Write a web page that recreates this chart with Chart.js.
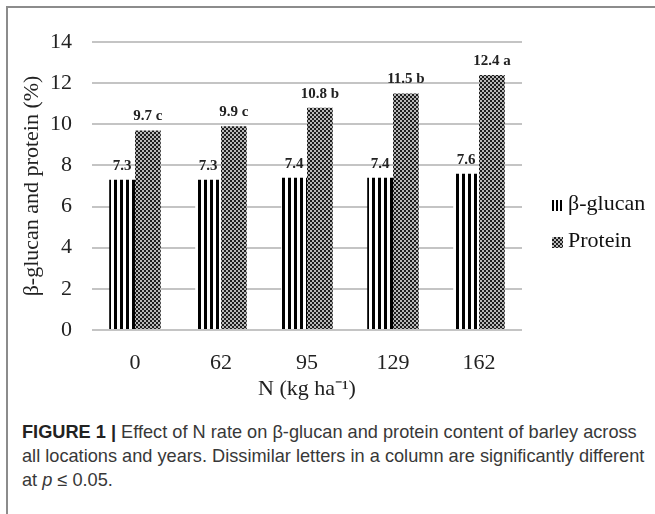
<!DOCTYPE html>
<html>
<head>
<meta charset="utf-8">
<script src="https://cdn.jsdelivr.net/npm/chart.js@4.4.1/dist/chart.umd.min.js"></script>
<style>
    body { margin: 0; background: #fff; width: 655px; height: 514px; overflow: hidden; position: relative; }
    #frame { position: absolute; left: 6px; top: 6px; width: 660px; height: 520px; border-left: 2px solid #8c8c8c; border-top: 2px solid #8c8c8c; }
    #wrap { position: absolute; left: 0; top: 0; width: 655px; height: 406px; }
    #legend { position: absolute; left: 552px; top: 189px; font-family: "Liberation Serif", "Times New Roman", serif; font-size: 22px; color: #111; }
    #legend div { height: 37px; line-height: 28px; white-space: nowrap; }
    #legend canvas { vertical-align: -1px; margin-right: 5px; }
    #caption { position: absolute; left: 22px; top: 420px; font-family: "Liberation Sans", Arial, sans-serif; font-size: 18.2px; line-height: 24px; color: #383838; white-space: nowrap; }
    #caption b { color: #222; }
</style>
</head>
<body>
<div id="frame"></div>
<div id="wrap"><canvas id="barChart"></canvas></div>
<div id="legend"></div>
<div id="caption"><b>FIGURE 1 |</b> Effect of N rate on β-glucan and protein content of barley across<br>all locations and years. Dissimilar letters in a column are significantly different<br>at <i>p</i> ≤ 0.05.</div>

<script>
const nRates = ['0', '62', '95', '129', '162'];
const seriesNames = ['β-glucan', 'Protein'];
const glucanValues = [7.3, 7.3, 7.4, 7.4, 7.6];
const proteinValues = [9.7, 9.9, 10.8, 11.5, 12.4];
const proteinLetters = ['c', 'c', 'b', 'b', 'a'];
const yTicks = [0, 2, 4, 6, 8, 10, 12, 14];

const serif = '"Liberation Serif", "Times New Roman", serif';

function stripePattern(ctx, period) {
    const c = document.createElement('canvas');
    c.width = period; c.height = period;
    const g = c.getContext('2d');
    g.fillStyle = '#fff';
    g.fillRect(0, 0, period, period);
    g.fillStyle = '#000';
    g.fillRect(0, 0, period / 2, period);
    return ctx.createPattern(c, 'repeat');
}

function checkPattern(ctx) {
    const c = document.createElement('canvas');
    c.width = 4; c.height = 4;
    const g = c.getContext('2d');
    g.fillStyle = '#1e1e1e';
    g.fillRect(0, 0, 4, 4);
    g.fillStyle = '#b8b8b8';
    g.fillRect(0, 0, 2, 2);
    g.fillRect(2, 2, 2, 2);
    return ctx.createPattern(c, 'repeat');
}

// value labels above each bar, letters only on protein
const barLabels = {
    id: 'barLabels',
    afterDatasetsDraw(chart) {
        const ctx = chart.ctx;
        ctx.save();
        ctx.font = 'bold 15px ' + serif;
        ctx.fillStyle = '#222';
        ctx.textAlign = 'center';
        ctx.textBaseline = 'alphabetic';
        chart.data.datasets.forEach((ds, di) => {
            chart.getDatasetMeta(di).data.forEach((bar, i) => {
                let txt = ds.data[i].toFixed(1);
                if (di === 1) txt += ' ' + proteinLetters[i];
                ctx.fillText(txt, bar.x, bar.y - 10);
            });
        });
        ctx.restore();
    }
};

function buildLegend() {
    const box = document.getElementById('legend');
    seriesNames.forEach((name, i) => {
        const row = document.createElement('div');
        const sw = document.createElement('canvas');
        sw.width = 11; sw.height = 11;
        const g = sw.getContext('2d');
        g.fillStyle = i === 0 ? stripePattern(g, 4) : checkPattern(g);
        g.fillRect(0, 0, 11, 11);
        row.appendChild(sw);
        row.appendChild(document.createTextNode(name));
        box.appendChild(row);
    });
}

function initChart() {
    const ctx = document.getElementById('barChart').getContext('2d');
    new Chart(ctx, {
        type: 'bar',
        data: {
            labels: nRates,
            datasets: [{
                label: seriesNames[0],
                data: glucanValues,
                backgroundColor: stripePattern(ctx, 6),
                borderWidth: 0,
                barPercentage: 1,
                categoryPercentage: 0.6
            }, {
                label: seriesNames[1],
                data: proteinValues,
                backgroundColor: checkPattern(ctx),
                borderWidth: 0,
                barPercentage: 1,
                categoryPercentage: 0.6
            }]
        },
        options: {
            responsive: true,
            maintainAspectRatio: false,
            animation: false,
            layout: { padding: { top: 42, left: 15, right: 133, bottom: 0 } },
            plugins: {
                tooltip: { enabled: false },
                legend: { display: false }
            },
            scales: {
                x: {
                    afterFit(scale) { scale.height = 76; },
                    grid: { display: false },
                    border: { display: false },
                    ticks: { color: '#222', padding: 12, font: { family: serif, size: 22 } },
                    title: { display: true, text: 'N (kg ha⁻¹)', color: '#222', font: { family: serif, size: 22 } }
                },
                y: {
                    min: 0,
                    max: 14,
                    afterFit(scale) { scale.width = 77; },
                    afterBuildTicks(scale) { scale.ticks = yTicks.map(v => ({ value: v })); },
                    grid: { color: '#c4c4c4', lineWidth: 2, drawTicks: false },
                    border: { display: false },
                    ticks: { color: '#222', padding: 20, font: { family: serif, size: 22 } },
                    title: { display: true, text: 'β-glucan and protein (%)', color: '#222', font: { family: serif, size: 22 } }
                }
            }
        },
        plugins: [barLabels]
    });
}

document.addEventListener('DOMContentLoaded', function () {
    buildLegend();
    initChart();
});
</script>
</body>
</html>
